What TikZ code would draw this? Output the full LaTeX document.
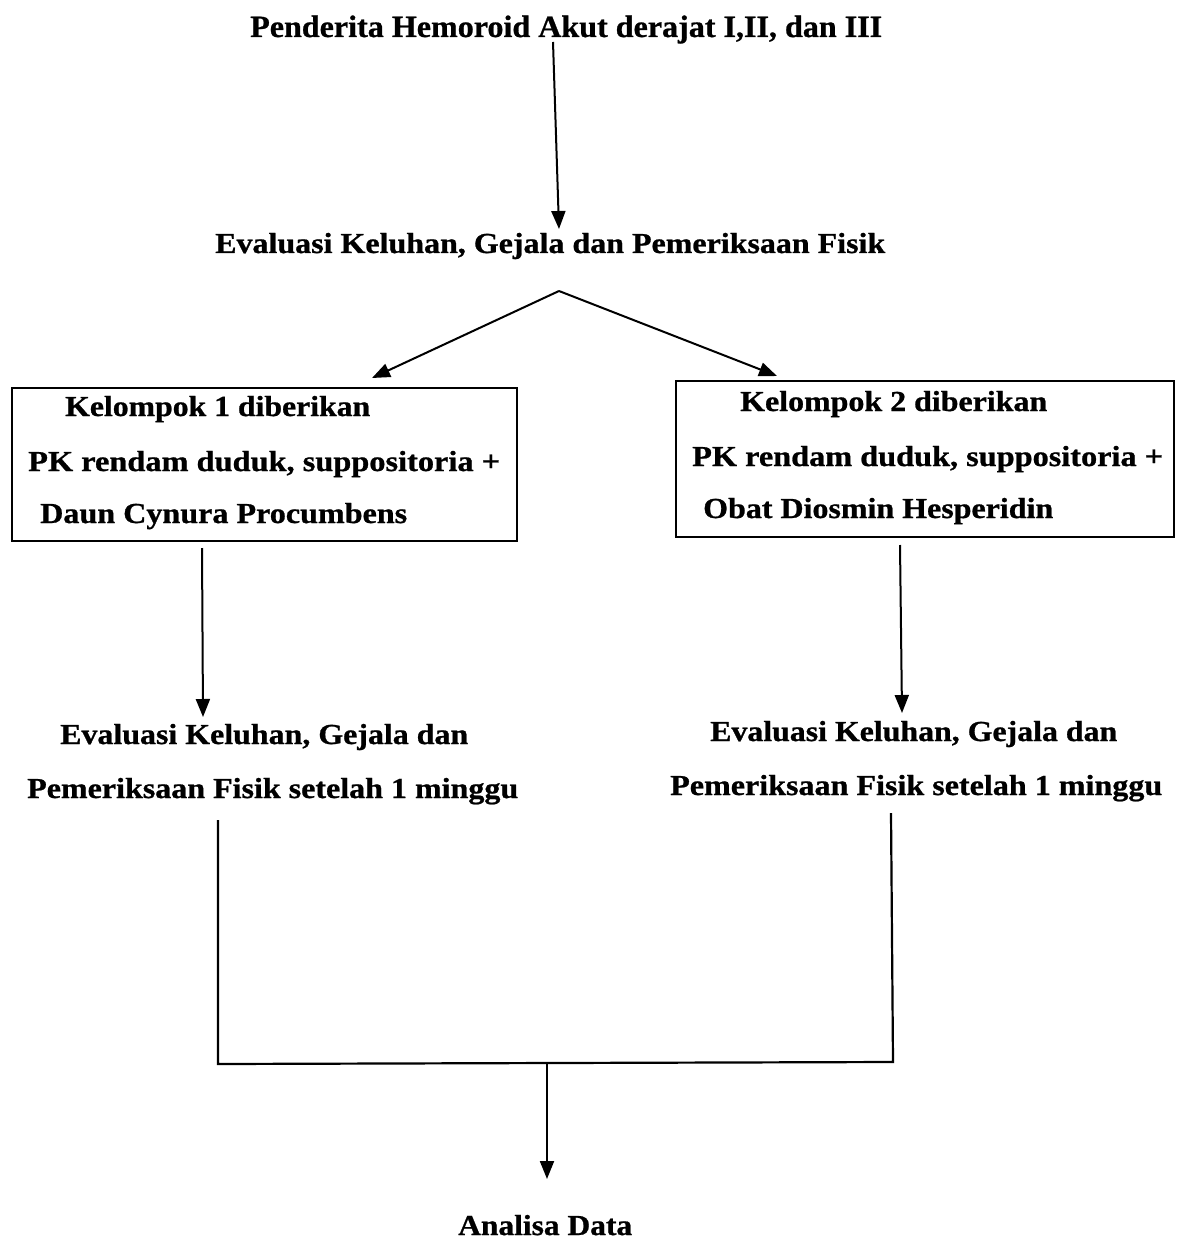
\documentclass[tikz,border=0pt]{standalone}
\usepackage{fontspec}
\usepackage{graphicx}
\setmainfont[BoldFeatures={FakeBold=0.8}]{Liberation Serif}
\usetikzlibrary{arrows.meta}
\newcommand\fitw[2]{\resizebox{#1pt}{\height}{#2}}
\tikzset{
  lbl/.style={inner sep=0pt, font=\fontsize{29}{32}\selectfont\bfseries},
  ttl/.style={inner sep=0pt, font=\fontsize{31}{34}\selectfont\bfseries},
  boxframe/.style={draw, line width=2.2pt, inner sep=0pt},
  conn/.style={line width=2.2pt},
  arr/.style={line width=2pt, -{Triangle[length=18pt,width=14pt]}}
}
\begin{document}
\begin{tikzpicture}[x=1pt,y=-1pt]
\useasboundingbox (0,0) rectangle (1183,1241);
% texts
\node[ttl, anchor=base west] (t0) at (250,37) {\fitw{632}{Penderita Hemoroid Akut derajat I,II, dan III}};
\node[lbl, anchor=base west] (e0) at (215,253) {\fitw{670}{Evaluasi Keluhan, Gejala dan Pemeriksaan Fisik}};
% boxes
\node[boxframe, minimum width=505pt, minimum height=153pt] (b1) at (264.5,464.5) {};
\node[boxframe, minimum width=498pt, minimum height=156pt] (b2) at (925,459) {};
\node[lbl, anchor=base west] (k1a) at (65,416) {\fitw{305}{Kelompok 1 diberikan}};
\node[lbl, anchor=base west] (k1b) at (28,471) {\fitw{472}{PK rendam duduk, suppositoria +}};
\node[lbl, anchor=base west] (k1c) at (40,523) {\fitw{367}{Daun Cynura Procumbens}};
\node[lbl, anchor=base west] (k2a) at (740,411) {\fitw{307}{Kelompok 2 diberikan}};
\node[lbl, anchor=base west] (k2b) at (692,466) {\fitw{471}{PK rendam duduk, suppositoria +}};
\node[lbl, anchor=base west] (k2c) at (703,518) {\fitw{350}{Obat Diosmin Hesperidin}};
% evaluations
\node[lbl, anchor=base west] (l1a) at (60,744) {\fitw{408}{Evaluasi Keluhan, Gejala dan}};
\node[lbl, anchor=base west] (l1b) at (27,798) {\fitw{491}{Pemeriksaan Fisik setelah 1 minggu}};
\node[lbl, anchor=base west] (r1a) at (710,741) {\fitw{407}{Evaluasi Keluhan, Gejala dan}};
\node[lbl, anchor=base west] (r1b) at (670,795) {\fitw{492}{Pemeriksaan Fisik setelah 1 minggu}};
\node[lbl, anchor=base west] (ad) at (458,1235) {\fitw{174}{Analisa Data}};
% connector points
\coordinate (p0) at (553,42);
\coordinate (p1) at (559,229);
\coordinate (apex) at (559,291);
\coordinate (pl) at (372,378);
\coordinate (pr) at (777,376);
\coordinate (q1s) at (202,548);
\coordinate (q1e) at (203,717);
\coordinate (q2s) at (900,545);
\coordinate (q2e) at (902,713);
\coordinate (m1) at (218,820);
\coordinate (m2) at (218,1064);
\coordinate (m3) at (893,1062);
\coordinate (m4) at (891,813);
\coordinate (j0) at (547,1063);
\coordinate (j1) at (547,1179);
% connectors
\draw[arr] (p0) -- (p1);
\draw[arr] (apex) -- (pl);
\draw[arr] (apex) -- (pr);
\draw[arr] (q1s) -- (q1e);
\draw[arr] (q2s) -- (q2e);
\draw[conn] (m1) -- (m2) -- (m3) -- (m4);
\draw[arr] (j0) -- (j1);
\end{tikzpicture}
\end{document}
